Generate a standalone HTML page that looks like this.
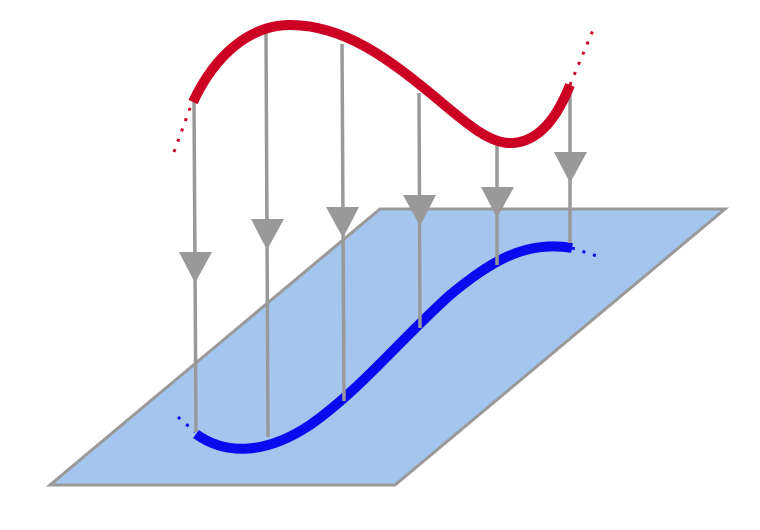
<!DOCTYPE html>
<html><head><style>html,body{margin:0;padding:0;background:#fff;width:760px;height:530px;overflow:hidden}</style></head>
<body>
<svg width="760" height="530" viewBox="0 0 760 530" xmlns="http://www.w3.org/2000/svg">
<polygon points="50,485 395,485 725,209 380,209" fill="#a4c6ee" stroke="#999" stroke-width="3"/>
<path d="M178,417 L195,432" stroke="#0a0aee" stroke-width="3" stroke-dasharray="3,8" fill="none"/>
<path d="M572,248 L600,257" stroke="#0a0aee" stroke-width="3" stroke-dasharray="3,8" fill="none"/>
<path d="M196,434 C225,455 265,455 310,425 C360,390 400,340 450,295 C490,262 525,240 572,248" stroke="#0a0aee" stroke-width="10" fill="none"/>
<path d="M174,152 L193,100" stroke="#cc0022" stroke-width="3" stroke-dasharray="3,8" fill="none"/>
<path d="M570,85 L593,30" stroke="#cc0022" stroke-width="3" stroke-dasharray="3,8" fill="none"/>
<g stroke="#999" stroke-width="3.5" fill="none">
<line x1="194" y1="100" x2="196" y2="432"/>
<line x1="266" y1="33" x2="268" y2="437"/>
<line x1="342" y1="44" x2="344" y2="401"/>
<line x1="419" y1="93" x2="420" y2="328"/>
<line x1="497" y1="140" x2="497" y2="265"/>
<line x1="570" y1="85" x2="570" y2="243"/>
</g>
<g fill="#999">
<polygon points="179,252 212,252 195,283"/>
<polygon points="251,219 284,219 267,250"/>
<polygon points="326,207 359,207 343,238"/>
<polygon points="403,195 436,195 420,226"/>
<polygon points="481,187 514,187 497,218"/>
<polygon points="554,152 587,152 570,183"/>
</g>
<path d="M193,102 C215,55 250,25 290,25 C345,25 390,60 435,97 C465,122 488,143 510,143 C540,143 558,115 570,85" stroke="#cc0022" stroke-width="10" fill="none"/>
</svg>
</body></html>
